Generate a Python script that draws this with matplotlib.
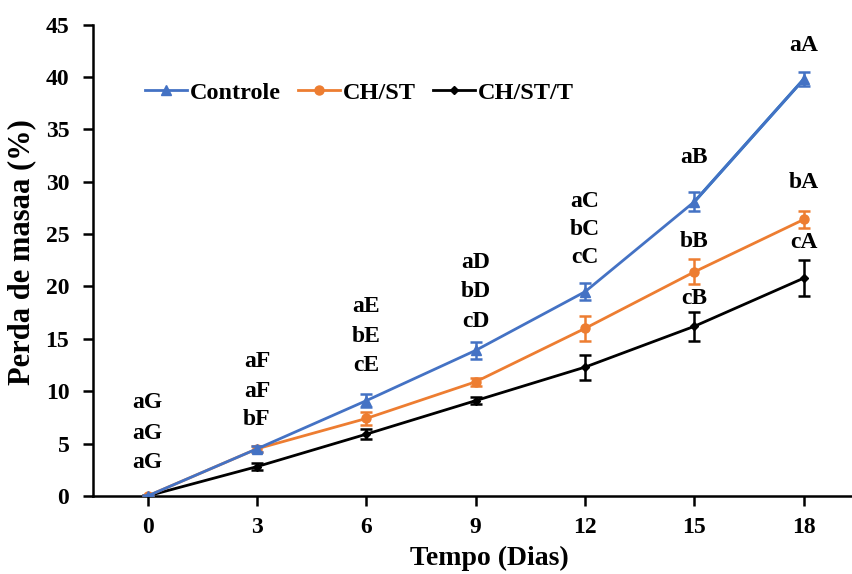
import matplotlib
matplotlib.use('Agg')
import matplotlib.pyplot as plt

plt.rcParams['font.family'] = ['Liberation Serif', 'DejaVu Serif']
plt.rcParams['font.weight'] = 'bold'

# Dados
dias = [0, 3, 6, 9, 12, 15, 18]
controle = [0, 4.5, 9.1, 13.9, 19.5, 28.1, 39.8]
controle_err = [0.1, 0.3, 0.6, 0.8, 0.8, 0.9, 0.7]
chst = [0, 4.5, 7.4, 10.9, 16.0, 21.4, 26.4]
chst_err = [0.1, 0.3, 0.6, 0.4, 1.2, 1.2, 0.8]
chstt = [0, 2.8, 5.9, 9.1, 12.3, 16.2, 20.8]
chstt_err = [0.1, 0.3, 0.5, 0.3, 1.2, 1.4, 1.7]

# Letras de significância
letra_dia = [0, 0, 0, 3, 3, 3, 6, 6, 6, 9, 9, 9, 12, 12, 12, 15, 15, 15, 18, 18, 18]
letra_txt = ['aG', 'aG', 'aG', 'aF', 'aF', 'bF', 'aE', 'bE', 'cE',
             'aD', 'bD', 'cD', 'aC', 'bC', 'cC', 'aB', 'bB', 'cB',
             'aA', 'bA', 'cA']
letra_y = [8.9, 6.0, 3.2, 12.8, 10.0, 7.3, 18.1, 15.2, 12.5,
           22.3, 19.5, 16.7, 28.1, 25.4, 22.8, 32.3, 24.3, 18.9,
           43.0, 29.9, 24.2]

AZUL = '#4472C4'
LARANJA = '#ED7D31'
PRETO = '#000000'

fig = plt.figure(figsize=(8.53, 5.74), dpi=100)
ax = fig.add_axes([0.109, 0.136, 0.891, 0.821])

# último segmento do controle num azul mais forte
ax.plot(dias[-2:], controle[-2:], color='#1477C0', linewidth=2.2, zorder=4.5)

e3 = ax.errorbar(dias, chstt, yerr=chstt_err, color=PRETO, marker='D', markersize=4.5,
                 linewidth=2, capsize=4, capthick=1.8, elinewidth=1.8, zorder=3)
e2 = ax.errorbar(dias, chst, yerr=chst_err, color=LARANJA, marker='o', markersize=6.5,
                 linewidth=2, capsize=4, capthick=1.8, elinewidth=1.8, zorder=4)
e1 = ax.errorbar(dias, controle, yerr=controle_err, color=AZUL, marker='^', markersize=6.5,
                 linewidth=2, capsize=4, capthick=1.8, elinewidth=1.8, zorder=5)

for d, t, y in zip(letra_dia, letra_txt, letra_y):
    ax.text(d, y, t, ha='center', va='center', fontsize=17, fontweight='bold')

ax.set_xlim(-1.5, 19.35)
ax.set_ylim(0, 45)
ax.set_xticks(dias)
ax.set_yticks(range(0, 46, 5))
ax.tick_params(axis='both', labelsize=17, width=1.8, length=7, direction='out')
ax.tick_params(axis='x', pad=8)
ax.tick_params(axis='y', pad=10)
for lbl in ax.get_xticklabels() + ax.get_yticklabels():
    lbl.set_fontweight('bold')

ax.spines['top'].set_visible(False)
ax.spines['right'].set_visible(False)
ax.spines['left'].set_linewidth(1.8)
ax.spines['bottom'].set_linewidth(1.8)

ax.set_xlabel('Tempo (Dias)', fontsize=20, fontweight='bold')
ax.set_ylabel('Perda de masaa (%)', fontsize=22, fontweight='bold')
ax.xaxis.set_label_coords(0.521, -0.105)
ax.yaxis.set_label_coords(-0.075, 0.518)

ax.legend([e1[0], e2[0], e3[0]], ['Controle', 'CH/ST', 'CH/ST/T'],
          loc='upper left', bbox_to_anchor=(0.04, 0.925), ncol=3, frameon=False,
          prop={'size': 17.5, 'weight': 'bold'}, handlelength=1.7,
          columnspacing=0.7, handletextpad=0.15)

plt.savefig('out.png', dpi=100)
plt.close()
